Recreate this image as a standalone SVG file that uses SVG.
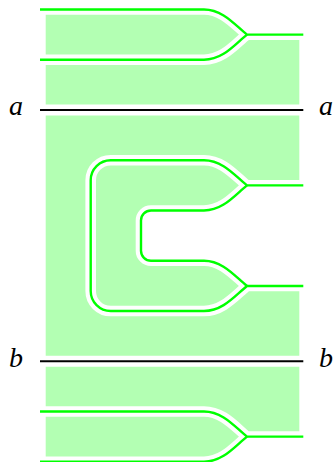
<svg xmlns="http://www.w3.org/2000/svg" width="336" height="462" viewBox="0 0 336 462">
<style>
.fl{fill:#b3ffb3;stroke:none}
.hole{fill:#ffffff;stroke:none}
.halo{fill:none;stroke:#ffffff;stroke-width:10.6}
.gl{fill:none;stroke:#00ff00;stroke-width:2.4}
.bl{fill:none;stroke:#000000;stroke-width:2.2}
.lbl{font-family:"Liberation Serif","Times New Roman",serif;font-style:italic;font-size:28px;fill:#000}
</style>
<defs>
<path id="p1" d="M40,9.5 H204 C223,9.5 235,25 247,34.6 H303.3"/>
<path id="p2" d="M40,59.75 H204 C223,59.75 235,44.2 247,34.6"/>
<path id="p3" d="M303.3,185.4 H247 C235,175.8 223,160.25 204,160.25 H110.7 A20,20 0 0 0 90.7,180.25 V291 A20,20 0 0 0 110.7,311 H204 C223,311 235,295.6 247,286 H303.3"/>
<path id="p4" d="M247,185.4 C235,195 223,210.5 204,210.5 H151 A10,10 0 0 0 141,220.5 V250.75 A10,10 0 0 0 151,260.75 H204 C223,260.75 235,276.4 247,286"/>
<path id="p5" d="M40,411.5 H204 C223,411.5 235,427 247,436.6 H303.3"/>
<path id="p6" d="M40,461.75 H204 C223,461.75 235,446.2 247,436.6"/>
</defs>
<g id="region-top">
<path class="fl" d="M45.7,9.5 H204 C223,9.5 235,25 247,34.6 H299.3 V104.5 H45.7 Z"/>
</g>
<g id="region-middle">
<rect class="fl" x="45.7" y="115.5" width="253.6" height="240.25"/>
<path class="hole" d="M247,185.4 C235,195 223,210.5 204,210.5 H151 A10,10 0 0 0 141,220.5 V250.75 A10,10 0 0 0 151,260.75 H204 C223,260.75 235,276.4 247,286 H310 V185.4 Z"/>
</g>
<g id="region-bottom">
<path class="fl" d="M45.7,366.75 H299.3 V436.6 H247 C235,446.2 223,461.75 204,461.75 H45.7 Z"/>
</g>
<g id="connectors">
<use href="#p1" class="halo"/>
<use href="#p2" class="halo"/>
<use href="#p3" class="halo"/>
<use href="#p4" class="halo"/>
<use href="#p5" class="halo"/>
<use href="#p6" class="halo"/>
<use href="#p1" class="gl"/>
<use href="#p2" class="gl"/>
<use href="#p3" class="gl"/>
<use href="#p4" class="gl"/>
<use href="#p5" class="gl"/>
<use href="#p6" class="gl"/>
<line class="bl" x1="40" y1="110" x2="303.3" y2="110"/>
<line class="bl" x1="40" y1="361.25" x2="303.3" y2="361.25"/>
</g>
<g id="labels">
<text class="lbl" x="9" y="115">a</text>
<text class="lbl" x="319" y="115">a</text>
<text class="lbl" x="9" y="367">b</text>
<text class="lbl" x="319" y="367">b</text>
</g>
</svg>
